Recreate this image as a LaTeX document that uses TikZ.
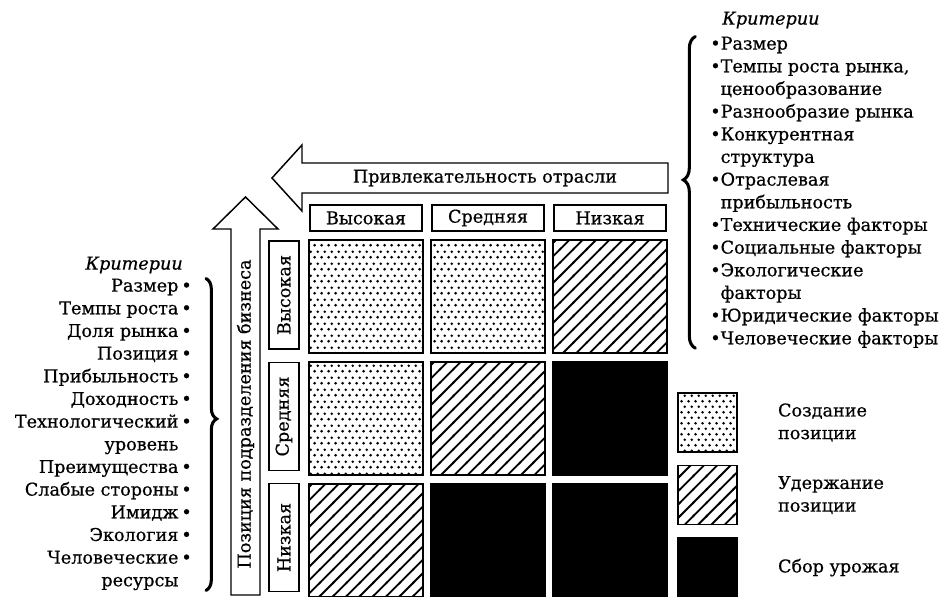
\documentclass[tikz,border=0pt]{standalone}
\usepackage{fontspec}
\setmainfont{DejaVu Serif}[FakeBold=0.6]
\usepackage{tikz}
\usetikzlibrary{patterns}
\usetikzlibrary{positioning}
\usetikzlibrary{decorations.pathreplacing}

\pgfdeclarepatternformonly{dense dots}{\pgfqpoint{0pt}{0pt}}{\pgfqpoint{5pt}{8.6pt}}{\pgfqpoint{5pt}{8.6pt}}{%
  \pgfpathcircle{\pgfqpoint{1.25pt}{2.15pt}}{1.1pt}%
  \pgfpathcircle{\pgfqpoint{3.75pt}{6.45pt}}{1.1pt}%
  \pgfusepath{fill}}
\pgfdeclarepatternformonly{wide lines}{\pgfqpoint{-1pt}{-1pt}}{\pgfqpoint{11pt}{11pt}}{\pgfqpoint{10pt}{10pt}}{%
  \pgfsetlinewidth{1.4pt}%
  \pgfpathmoveto{\pgfqpoint{-1pt}{-1pt}}%
  \pgfpathlineto{\pgfqpoint{11pt}{11pt}}%
  \pgfusepath{stroke}}

\begin{document}
\begin{tikzpicture}[x=0.75pt,y=-0.75pt,node distance=91.5pt,
                    font=\fontsize{13.2}{17}\selectfont,
                    cell/.style={draw,line width=1.2pt,inner sep=0pt,minimum width=85.5pt,minimum height=84.75pt},
                    build/.style={cell,pattern=dense dots},
                    hold/.style={cell,pattern=wide lines},
                    harvest/.style={cell,fill=black},
                    key/.style={minimum width=44.25pt,minimum height=44.25pt},
                    label box/.style={draw,line width=1pt,inner sep=0pt,minimum width=84pt,minimum height=19.5pt},
                    side box/.style={label box,rotate=90,minimum width=81pt,minimum height=22.5pt},
                    block arrow/.style={draw,line width=1.1pt,fill=white,line join=miter},
                    crit brace/.style={decorate,line width=2.3pt,line cap=round,
                      decoration={brace,amplitude=#1}}]

  \useasboundingbox (0,0) rectangle (941,596);

  \node[build]   (hh) at (366,296.5) {};
  \node[build]   (hm) [right of=hh] {};
  \node[hold]    (hl) [right of=hm] {};
  \node[build]   (mh) [below of=hh] {};
  \node[hold]    (mm) [right of=mh] {};
  \node[harvest] (ml) [right of=mm] {};
  \node[hold]    (lh) [below of=mh] {};
  \node[harvest] (lm) [right of=lh] {};
  \node[harvest] (ll) [right of=lm] {};

  \node[label box] (colh) [above of=hh,node distance=58.9pt] {Высокая};
  \node[label box] (colm) [above of=hm,node distance=58.9pt] {Средняя};
  \node[label box] (coll) [above of=hl,node distance=58.9pt] {Низкая};
  \node[side box]  (rowh) at (284,295) {Высокая};
  \node[side box]  (rowm) at (284,416.5) {Средняя};
  \node[side box]  (rowl) at (284,537.5) {Низкая};

  \draw[block arrow] (272,178) -- (302,145) -- (302,163) -- (668,163)
    -- (668,193) -- (302,193) -- (302,211) -- cycle;
  \node (attr) at (485,178) {Привлекательность отрасли};
  \draw[block arrow] (245.5,197) -- (278,229) -- (260,229) -- (260,595)
    -- (231,595) -- (231,229) -- (213,229) -- cycle;
  \node[rotate=90] (pos) at (245.5,414) {Позиция подразделения бизнеса};

  \node[build,key]   (kbuild) at (707.5,422.5) {};
  \node[hold,key]    (khold) [below of=kbuild,node distance=54.4pt] {};
  \node[harvest,key] (kharv) [below of=khold,node distance=54.4pt] {};
  \node[align=left,inner sep=0pt] (tbuild) [right=30pt of kbuild] {Создание\\позиции};
  \node[align=left,inner sep=0pt] (thold) [right=30pt of khold] {Удержание\\позиции};
  \node[align=left,inner sep=0pt] (tharv) [right=30pt of kharv] {Сбор урожая};

  \node[anchor=east,inner sep=0pt] (lcrit) at (183,265) {\itshape Критерии};
  \node[anchor=north east,align=right,inner sep=0pt] (lcritlist) at (192,278.5)
    {Размер\,•\\Темпы роста\,•\\Доля рынка\,•\\Позиция\,•\\Прибыльность\,•\\Доходность\,•\\
     Технологический\,•\\уровень\phantom{\,•}\\Преимущества\,•\\Слабые стороны\,•\\Имидж\,•\\
     Экология\,•\\Человеческие\,•\\ресурсы\phantom{\,•}};
  \node[anchor=west,inner sep=0pt] (rcrit) at (722,20) {\itshape Критерии};
  \node[anchor=north west,align=left,inner sep=0pt] (rcritlist) at (710,36.5)
    {•Размер\\•Темпы роста рынка,\\\phantom{•}ценообразование\\•Разнообразие рынка\\
     •Конкурентная\\\phantom{•}структура\\•Отраслевая\\\phantom{•}прибыльность\\
     •Технические факторы\\•Социальные факторы\\•Экологические\\\phantom{•}факторы\\
     •Юридические факторы\\•Человеческие факторы};

  \draw[crit brace=8pt,decoration={aspect=0.45}] ([xshift=10.5pt]lcritlist.north east) -- ([xshift=10.5pt]lcritlist.south east);
  \draw[crit brace=9pt,decoration={aspect=0.54}] ([xshift=-11pt]rcritlist.south west) -- ([xshift=-11pt]rcritlist.north west);

\end{tikzpicture}
\end{document}
